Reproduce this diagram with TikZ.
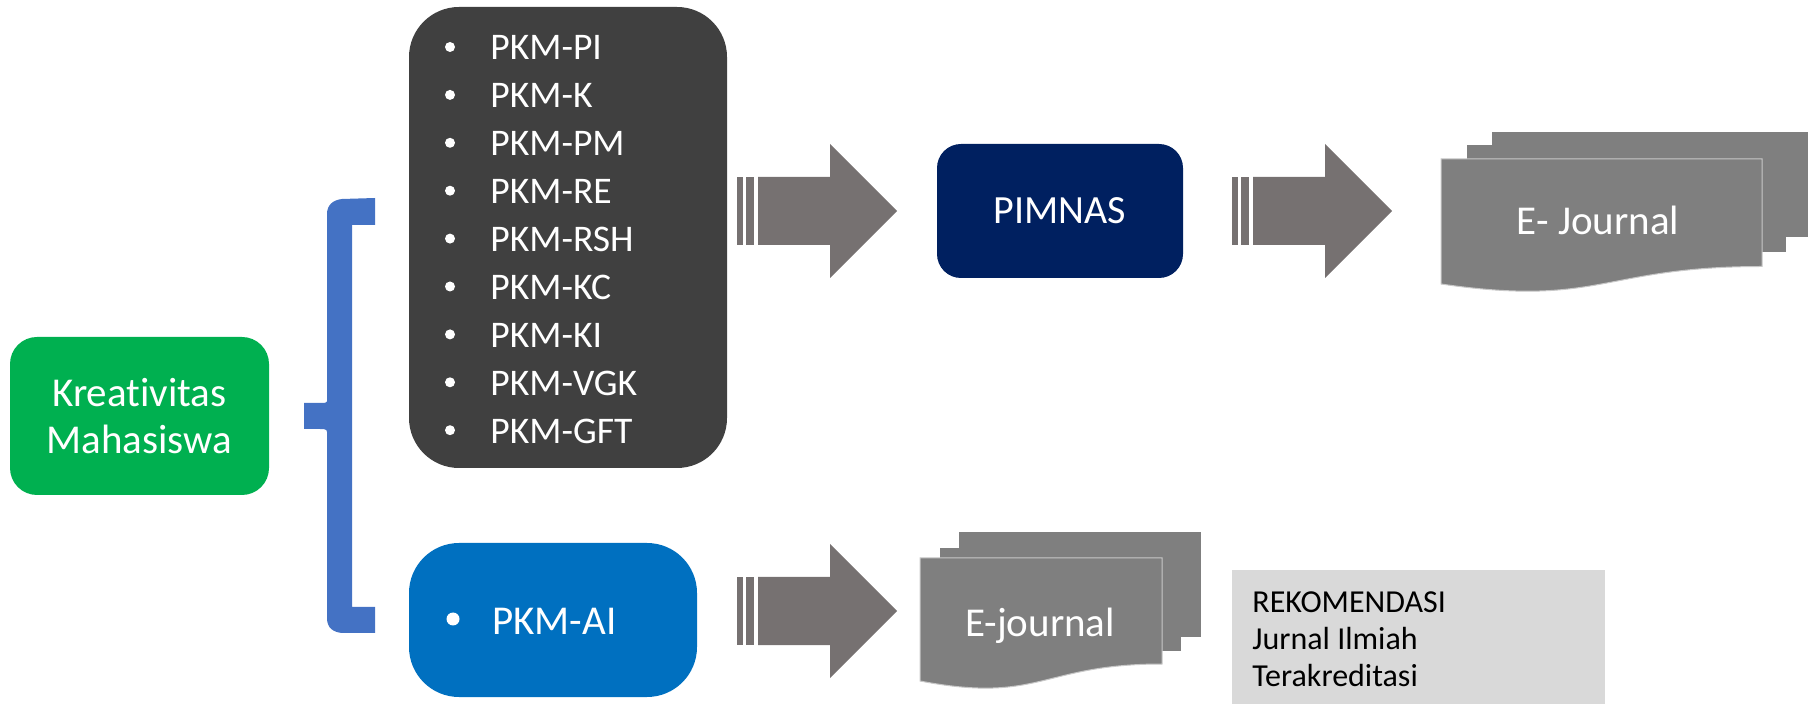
\documentclass[tikz,border=0pt]{standalone}
\usepackage{fontspec}
\setmainfont{Carlito}[Ligatures=NoCommon]
\definecolor{kmgreen}{HTML}{00B050}
\definecolor{listdark}{HTML}{404040}
\definecolor{aiblue}{HTML}{0070C0}
\definecolor{navy}{HTML}{002060}
\definecolor{arrowgray}{HTML}{767171}
\definecolor{docgray}{HTML}{7F7F7F}
\definecolor{docline}{HTML}{C8C8C8}
\definecolor{bracecol}{HTML}{4472C4}
\definecolor{recogray}{HTML}{D9D9D9}
\begin{document}
\begin{tikzpicture}[x=0.5pt,y=-0.5pt,
  box/.style={inner sep=0pt, text=white},
  listtext/.style={anchor=base west, inner sep=0pt, text=white, font=\fontsize{18.8}{22}\selectfont},
  doctext/.style={anchor=base, inner sep=0pt, text=white, font=\fontsize{20.5}{24}\selectfont},
  recotext/.style={anchor=base west, inner sep=0pt, text=black, font=\fontsize{16}{19}\selectfont},
  striped arrow/.pic={
    \fill[arrowgray] (0,-34) rectangle (6,34);
    \fill[arrowgray] (9,-34) rectangle (17,34);
    \fill[arrowgray] (21,-34) -- (93,-34) -- (93,-67) -- (160,0) -- (93,67) -- (93,34) -- (21,34) -- cycle;
  }]
\useasboundingbox (0,0) rectangle (1808,704);

% brace
\fill[bracecol] (375,198) -- (342,199) .. controls (333,200) and (327,205) .. (327,214)
  -- (327,401) .. controls (327,403) and (324,403) .. (320,403) -- (304,403) -- (304,429) -- (320,429)
  .. controls (324,429) and (327,429) .. (327,432)
  -- (327,618) .. controls (327,628) and (333,632) .. (342,633) -- (375,633) -- (375,607)
  -- (352,607) -- (352,225) -- (375,225) -- cycle;

% main boxes
\node[box, fill=kmgreen, rounded corners=13.5pt, minimum width=129.5pt, minimum height=79pt,
  align=center, font=\fontsize{20.5}{23.5}\selectfont] (km) at (139.5,416) {Kreativitas\\Mahasiswa};
\node[box, fill=listdark, rounded corners=25pt, minimum width=159pt, minimum height=230.5pt] (list) at (568,237.5) {};
\node[box, fill=aiblue, rounded corners=25pt, minimum width=144pt, minimum height=77pt] (ai) at (553,620) {};
\node[box, fill=navy, rounded corners=12pt, minimum width=123pt, minimum height=67pt,
  font=\fontsize{20}{24}\selectfont] (pimnas) at (1060,211) {PIMNAS};

% list items
\foreach \t [count=\i] in {PKM-PI,PKM-K,PKM-PM,PKM-RE,PKM-RSH,PKM-KC,PKM-KI,PKM-VGK,PKM-GFT}{
  \pgfmathsetmacro{\yy}{60+47.9*(\i-1)}
  \fill[white] (450,\yy-13) circle (5);
  \node[listtext] (item\i) at (490,\yy) {\t};
}
\fill[white] (453,619) circle (6.5);
\node[listtext, font=\fontsize{20.5}{24}\selectfont] (aitext) at (492,634) {PKM-AI};

% arrows
\pic at (737,211) {striped arrow};
\pic at (1232,211) {striped arrow};
\pic at (737,611) {striped arrow};

% top document stack
\fill[docgray] (1492,132) rectangle (1812,237);
\fill[docgray] (1467,145) rectangle (1786,252);
\path[fill=docgray, draw=docline, line width=0.5pt] (1441,159) -- (1762,159) -- (1762,266.5)
  .. controls (1601.5,266.5) and (1601.5,307.3) .. (1441,284) -- cycle;
\node[doctext] (ej1) at (1598,235) {E- Journal};

% bottom document stack
\fill[docgray] (959,532) rectangle (1201,637);
\fill[docgray] (940,548) rectangle (1181,651);
\path[fill=docgray, draw=docline, line width=0.5pt] (920,558) -- (1162,558) -- (1162,664)
  .. controls (1041,664) and (1041,704) .. (920,681) -- cycle;
\node[doctext] (ej2) at (1040,637) {E-journal};

% recommendation
\node[fill=recogray, inner sep=0pt, minimum width=186.5pt, minimum height=72pt] (reco) at (1418.5,642) {};
\node[recotext] (r1) at (1252,612) {REKOMENDASI};
\node[recotext] (r2) at (1252,649) {Jurnal Ilmiah};
\node[recotext] (r3) at (1252,686) {Terakreditasi};
\end{tikzpicture}
\end{document}
